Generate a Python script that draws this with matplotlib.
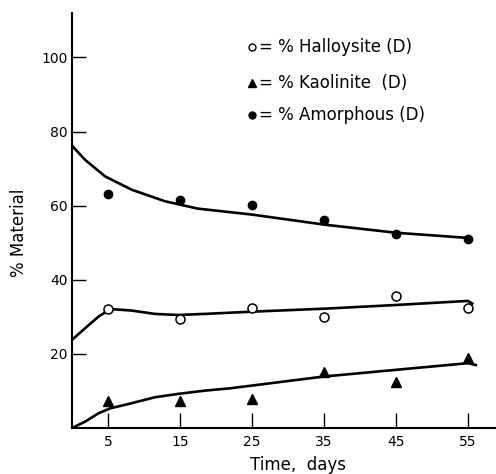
"""
Clay mineral composition vs time (halloysite / kaolinite / amorphous)
"""

import matplotlib.pyplot as plt

# measured points
days = [5, 15, 25, 35, 45, 55]
halloysite = [32.2, 29.5, 32.4, 30.0, 35.7, 32.4]
kaolinite = [7.3, 7.3, 7.8, 15.1, 12.4, 18.9]
amorphous = [63.2, 61.6, 60.3, 56.2, 52.4, 51.0]

# fitted curves
amorph_fit_x = [0, 1.8, 4.6, 8.3, 12.9, 17.5, 25, 35, 45, 55]
amorph_fit_y = [76.2, 72.4, 67.9, 64.3, 61.2, 59.2, 57.6, 54.9, 52.7, 51.3]

halloy_fit_x = [0, 1.8, 3.7, 5.3, 8.3, 11.5, 14.7, 18.5, 25, 35, 45, 55, 55.6]
halloy_fit_y = [23.8, 26.9, 30.1, 32.1, 31.7, 30.8, 30.5, 30.8, 31.4, 32.2, 33.2, 34.3, 33.6]

kaol_fit_x = [0, 1.8, 3.7, 5.3, 8.3, 11.5, 14.7, 18.5, 21.9, 35, 45, 55, 56.1]
kaol_fit_y = [0, 1.7, 4.0, 5.3, 6.7, 8.3, 9.2, 10.1, 10.7, 13.9, 15.7, 17.5, 17.0]

xticks = [5, 15, 25, 35, 45, 55]
yticks = [20, 40, 60, 80, 100]

fig = plt.figure(figsize=(4.96, 4.74), dpi=100)
ax = fig.add_axes([0.1452, 0.097, 0.8548, 0.8756])

ax.plot(amorph_fit_x, amorph_fit_y, color="black", lw=1.9)
ax.plot(halloy_fit_x, halloy_fit_y, color="black", lw=1.9)
ax.plot(kaol_fit_x, kaol_fit_y, color="black", lw=1.9)

ax.plot(days, halloysite, "o", ms=6.5, mfc="white", mec="black", mew=1.1, zorder=3)
ax.plot(days, kaolinite, "^", ms=7.5, color="black", zorder=3)
ax.plot(days, amorphous, "o", ms=6, color="black", zorder=3)

ax.set_xlim(0, 58.9)
ax.set_ylim(0, 112)
ax.set_xticks(xticks)
ax.set_yticks(yticks)
ax.tick_params(axis="x", direction="in", length=11, width=1, pad=5, labelsize=10)
ax.tick_params(axis="y", direction="in", length=10, width=1, pad=3, labelsize=10)

for s in ["top", "right"]:
	ax.spines[s].set_visible(False)
for s in ["left", "bottom"]:
	ax.spines[s].set_linewidth(1.5)

ax.set_xlabel("Time,  days", fontsize=12, va="center")
ax.xaxis.set_label_coords(0.533, -0.089)
ax.set_ylabel("% Material", fontsize=12, va="center")
ax.yaxis.set_label_coords(-0.125, 0.47)

# legend drawn by hand
leg_x = 0.4245
rows = [0.918, 0.831, 0.754]
ax.plot(leg_x, rows[0], "o", ms=5, mfc="white", mec="black", mew=1, transform=ax.transAxes, clip_on=False)
ax.plot(leg_x, rows[1], "^", ms=6, color="black", transform=ax.transAxes, clip_on=False)
ax.plot(leg_x, rows[2], "o", ms=5, color="black", transform=ax.transAxes, clip_on=False)
labels = ["= % Halloysite (D)", "= % Kaolinite  (D)", "= % Amorphous (D)"]
for yy, lab in zip(rows, labels):
	ax.text(leg_x + 0.017, yy, lab, transform=ax.transAxes, fontsize=12, va="center", ha="left")

fig.savefig("out.png", dpi=100)
